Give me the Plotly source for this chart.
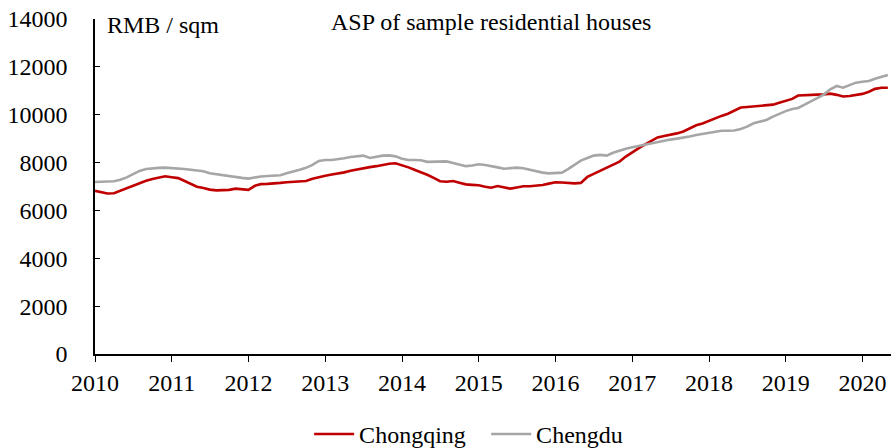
import pandas as pd
import plotly.graph_objects as go

months = pd.date_range("2010-01-01", periods=125, freq="MS")

chongqing = [
    6820, 6760, 6710, 6720, 6820, 6930, 7040, 7150, 7240, 7310, 7370, 7430,
    7390, 7350, 7240, 7110, 6990, 6940, 6870, 6840, 6840, 6860, 6910, 6880,
    6860, 7030, 7100, 7110, 7120, 7150, 7180, 7200, 7210, 7230, 7320, 7390,
    7450, 7500, 7540, 7590, 7660, 7720, 7770, 7810, 7850, 7900, 7950, 7970,
    7900, 7800, 7700, 7600, 7490, 7360, 7220, 7200, 7230, 7160, 7090, 7070,
    7050, 6990, 6950, 7020, 6960, 6910, 6960, 7010, 7010, 7030, 7060, 7120,
    7180, 7170, 7140, 7130, 7150, 7400, 7530, 7650, 7780, 7890, 8040, 8250,
    8440, 8600, 8750, 8900, 9050, 9110, 9160, 9220, 9300, 9430, 9560, 9630,
    9750, 9870, 9950, 10040, 10180, 10300, 10320, 10340, 10350, 10380, 10420, 10500,
    10570, 10660, 10800, 10820, 10850, 10840, 10850, 10880, 10830, 10760, 10780, 10830,
    10870, 10960, 11080, 11130, 11130,
]

chengdu = [
    7190, 7210, 7220, 7220, 7280, 7380, 7520, 7650, 7730, 7770, 7780, 7790,
    7780, 7760, 7730, 7700, 7660, 7640, 7550, 7510, 7480, 7410, 7380, 7360,
    7330, 7390, 7420, 7440, 7450, 7470, 7550, 7610, 7700, 7780, 7900, 8070,
    8110, 8110, 8130, 8180, 8230, 8260, 8290, 8190, 8240, 8290, 8300, 8260,
    8160, 8110, 8110, 8100, 8030, 8040, 8040, 8050, 7980, 7900, 7850, 7880,
    7930, 7900, 7860, 7800, 7740, 7750, 7790, 7760, 7690, 7650, 7580, 7550,
    7560, 7580, 7730, 7900, 8080, 8190, 8290, 8320, 8290, 8410, 8500, 8580,
    8640, 8700, 8750, 8800, 8860, 8910, 8960, 9000, 9040, 9090, 9150, 9200,
    9260, 9300, 9330, 9330, 9340, 9400, 9500, 9640, 9700, 9780, 9920, 10050,
    10150, 10240, 10280, 10420, 10570, 10700, 10840, 11060, 11200, 11130, 11250, 11340,
    11380, 11410, 11500, 11570, 11660,
]

year_ticks = [f"{y}-01-01" for y in range(2010, 2021)]
year_labels = [str(y) for y in range(2010, 2021)]
y_ticks = list(range(0, 14001, 2000))
y_labels = [str(v) for v in y_ticks]

FONT = "Liberation Serif"
FS = 24

fig = go.Figure()
fig.add_trace(go.Scatter(x=months, y=chongqing, name="Chongqing", mode="lines",
                         line=dict(color="#C00000", width=2.6)))
fig.add_trace(go.Scatter(x=months, y=chengdu, name="Chengdu", mode="lines",
                         line=dict(color="#A6A6A6", width=2.6)))

fig.update_layout(
    width=893, height=448,
    margin=dict(l=95, r=2, t=19, b=94, autoexpand=False),
    paper_bgcolor="white", plot_bgcolor="white",
    font=dict(family=FONT, size=FS, color="black"),
    showlegend=True,
    legend=dict(orientation="h", x=0.269, xanchor="left", y=-0.173, yanchor="top",
                font=dict(family=FONT, size=FS), itemwidth=40, entrywidth=122,
                tracegroupgap=0, bgcolor="rgba(0,0,0,0)"),
    annotations=[
        dict(text="RMB / sqm", xref="paper", yref="paper", x=0.013, y=0.982,
             xanchor="left", yanchor="middle", showarrow=False,
             font=dict(family=FONT, size=FS)),
        dict(text="ASP of sample residential houses", xref="paper", yref="paper",
             x=0.498, y=0.99, xanchor="center", yanchor="middle", showarrow=False,
             font=dict(family=FONT, size=FS)),
    ],
)

fig.update_xaxes(
    type="date", range=["2010-01-01", "2020-05-16"],
    tickvals=year_ticks, ticktext=year_labels,
    showline=True, linecolor="black", linewidth=1.5,
    ticks="outside", ticklen=6, tickcolor="black", tickwidth=1.2,
    showgrid=False, zeroline=False, ticklabelstandoff=0, automargin=False,
)
fig.update_yaxes(
    range=[0, 14000], tickvals=y_ticks, ticktext=y_labels,
    showline=True, linecolor="black", linewidth=1.5,
    ticks="inside", ticklen=5, tickcolor="black", tickwidth=1.2,
    showgrid=False, zeroline=False, ticklabelstandoff=21, automargin=False,
)

fig.write_html("out.html", config={"displayModeBar": False},
               post_script="document.body.style.margin='0px';")
